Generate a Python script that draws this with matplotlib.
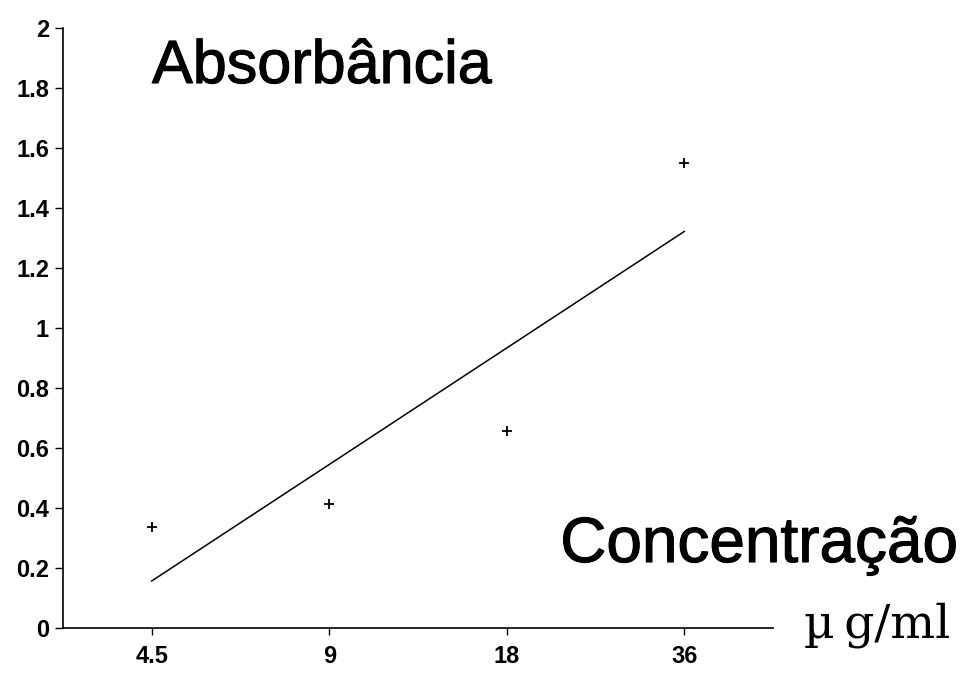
import numpy as np
import matplotlib
matplotlib.use("Agg")
import matplotlib.pyplot as plt
import matplotlib.patheffects as pe

categories = ["4.5", "9", "18", "36"]
absorbance = [0.337, 0.413, 0.657, 1.55]
y_ticks = [0, 0.2, 0.4, 0.6, 0.8, 1, 1.2, 1.4, 1.6, 1.8, 2]
y_tick_labels = ["0", "0.2", "0.4", "0.6", "0.8", "1", "1.2", "1.4", "1.6", "1.8", "2"]

fig = plt.figure(figsize=(9.63, 6.73), dpi=100)
ax = fig.add_axes([63 / 963, 45 / 673, 710 / 963, 600 / 673])

xpos = np.arange(len(categories))
ax.plot(xpos, absorbance, linestyle="none", marker="+", markersize=7,
        markeredgewidth=1.3, color="black")

slope, intercept = np.polyfit(xpos, absorbance, 1)
ax.plot(xpos, slope * xpos + intercept, color="black", linewidth=1.1)

ax.set_xlim(-0.5, 3.5)
ax.set_ylim(0, 2)
ax.set_xticks(xpos)
ax.set_xticklabels(categories)
ax.set_yticks(y_ticks)
ax.set_yticklabels(y_tick_labels)

for s in ["top", "right"]:
    ax.spines[s].set_visible(False)
for s in ["left", "bottom"]:
    ax.spines[s].set_linewidth(1.2)

ax.tick_params(axis="y", direction="out", length=6, width=1.0, pad=4)
ax.tick_params(axis="x", direction="out", length=5, width=1.0, pad=7)
for lab in ax.get_yticklabels() + ax.get_xticklabels():
    lab.set_fontfamily("Liberation Sans")
    lab.set_fontweight("bold")
    lab.set_fontsize(17)

thick = [pe.withStroke(linewidth=0.8, foreground="black")]
fig.text(152 / 963, 1 - 83 / 673, "Absorbância", fontsize=44,
         family="Liberation Sans", ha="left", va="baseline", path_effects=thick)
fig.text(958 / 963, 1 - 562 / 673, "Concentração", fontsize=46,
         family="Liberation Sans", ha="right", va="baseline", path_effects=thick)
fig.text(950 / 963, 1 - 638 / 673, "µ\u2009g/ml", fontsize=34,
         family="DejaVu Serif", ha="right", va="baseline")

fig.savefig("out.png", dpi=100, facecolor="white")
